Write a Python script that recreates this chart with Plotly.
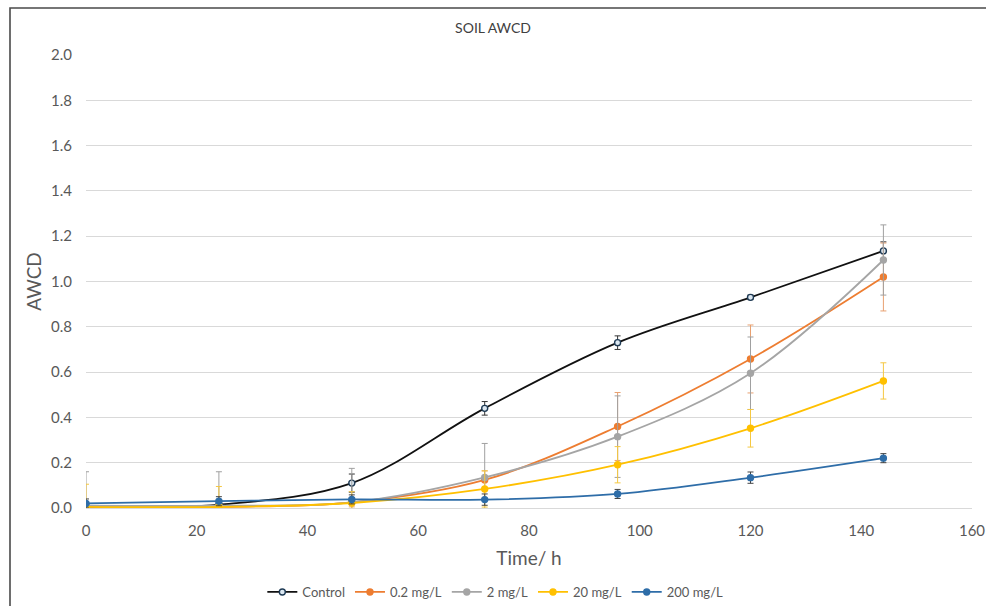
import plotly.graph_objects as go

time_h = [0, 24, 48, 72, 96, 120, 144]

control = [0.005, 0.015, 0.11, 0.44, 0.73, 0.93, 1.135]
control_err = [0.01, 0.01, 0.04, 0.03, 0.03, 0.01, 0.04]

c02 = [0.005, 0.005, 0.025, 0.124, 0.36, 0.658, 1.02]
c02_err = [0.01, 0.01, 0.02, 0.04, 0.15, 0.15, 0.15]

c2 = [0.01, 0.01, 0.025, 0.135, 0.315, 0.595, 1.095]
c2_err = [0.15, 0.15, 0.15, 0.15, 0.18, 0.16, 0.155]

c20 = [0.005, 0.005, 0.022, 0.084, 0.191, 0.352, 0.561]
c20_err = [0.1, 0.09, 0.05, 0.08, 0.08, 0.083, 0.08]

c200 = [0.02, 0.03, 0.038, 0.037, 0.062, 0.134, 0.22]
c200_err = [0.02, 0.02, 0.02, 0.025, 0.02, 0.025, 0.02]

x_ticks = [0, 20, 40, 60, 80, 100, 120, 140, 160]
y_ticks = [0.0, 0.2, 0.4, 0.6, 0.8, 1.0, 1.2, 1.4, 1.6, 1.8, 2.0]

series = [
    ("Control", control, control_err, "#111111", "#dce8f2", "#1f3b55", "#333333"),
    ("0.2 mg/L", c02, c02_err, "#ED7D31", "#ED7D31", "#ED7D31", "#e8a070"),
    ("2 mg/L", c2, c2_err, "#A5A5A5", "#A5A5A5", "#A5A5A5", "#a0a0a0"),
    ("20 mg/L", c20, c20_err, "#FFC000", "#FFC000", "#FFC000", "#f5c842"),
    ("200 mg/L", c200, c200_err, "#2E6DA8", "#2E6DA8", "#2E6DA8", "#444444"),
]

FONT = "Lato, Carlito, 'Open Sans', sans-serif"

W, H = 986, 606
L, R, T, B = 86, 14, 55, 98
PW, PH = W - L - R, H - T - B

fig = go.Figure()
for name, vals, errs, lc, mfill, mline, ecol in series:
    fig.add_trace(go.Scatter(
        x=time_h, y=vals, name=name, mode="lines+markers",
        line=dict(color=lc, width=1.8, shape="spline", smoothing=1.0),
        marker=dict(symbol="circle", size=6, color=mfill,
                    line=dict(color=mline, width=1.4)),
        error_y=dict(type="data", array=errs, visible=True,
                     color=ecol, thickness=1, width=3),
    ))

fig.update_layout(
    width=W, height=H,
    paper_bgcolor="white", plot_bgcolor="white",
    margin=dict(l=L, r=R, t=T, b=B, pad=0, autoexpand=False),
    font=dict(family=FONT, color="#595959", size=13),
    title=dict(text="SOIL AWCD", x=493 / W, xref="container", xanchor="center",
               y=1 - 28 / H, yref="container", yanchor="middle",
               font=dict(family=FONT, size=14, color="#404040")),
    showlegend=True,
    legend=dict(orientation="h", x=0.462, xanchor="center",
                y=1 - 592 / H, yref="container", yanchor="middle",
                font=dict(family=FONT, size=13, color="#595959"),
                itemwidth=30, tracegroupgap=0),
    xaxis=dict(range=[0, 160], tickvals=x_ticks, showgrid=False,
               zeroline=False, showline=False, ticks="", automargin=False,
               ticklabelstandoff=12,
               tickfont=dict(size=15, color="#595959"),
               title=dict(text="Time/ h", font=dict(size=19, color="#595959"),
                          standoff=13)),
    yaxis=dict(range=[0, 2.0], tickvals=y_ticks, tickformat=".1f",
               showgrid=True, gridcolor="#d9d9d9", gridwidth=1,
               zeroline=True, zerolinecolor="#d9d9d9", zerolinewidth=1,
               showline=False, ticks="", automargin=False,
               ticklabelstandoff=13,
               tickfont=dict(size=15, color="#595959"),
               title=dict(text="AWCD", font=dict(size=19, color="#595959"),
                          standoff=4)),
)

# outer chart frame (left and top edges visible)
fig.add_shape(type="rect", xref="paper", yref="paper",
              x0=(10 - L) / PW, x1=2.0, y0=-1.0, y1=(H - B - 8) / PH,
              line=dict(color="#4a4a4a", width=1.6), layer="below")

fig.write_html(
    "out.html",
    config={"displayModeBar": False},
    post_script="document.body.style.margin='0';document.body.style.overflow='hidden';",
)
